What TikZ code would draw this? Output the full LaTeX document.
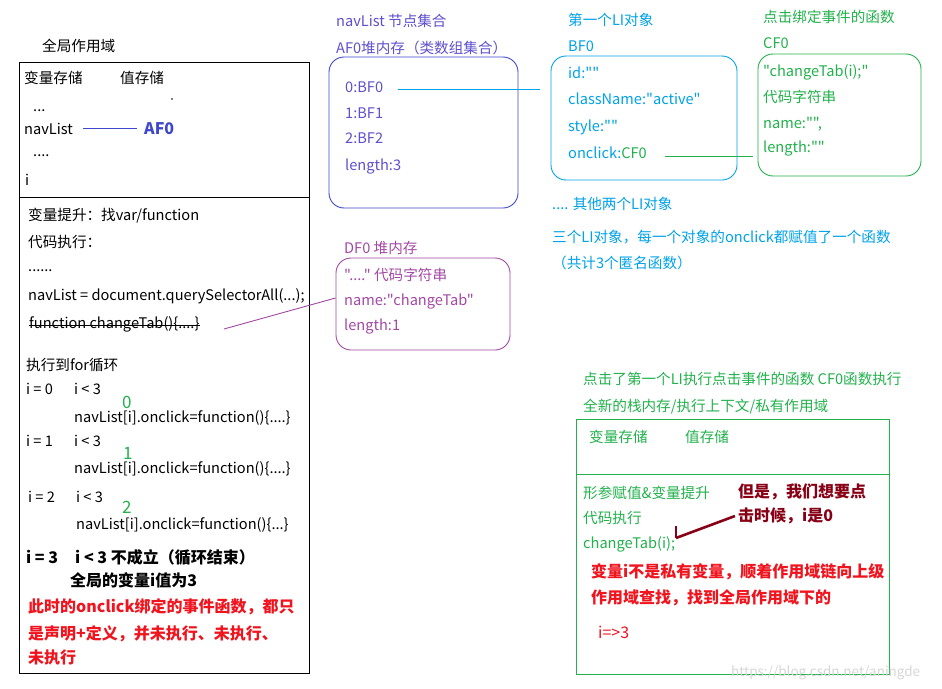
\documentclass[tikz,border=0pt]{standalone}
\usepackage{fontspec}
\setmainfont{Noto Sans CJK SC}[Ligatures=TeXOff]
\usetikzlibrary{calc}
\definecolor{afblue}{RGB}{63,72,204}
\definecolor{aftext}{RGB}{95,80,205}
\definecolor{licyan}{RGB}{0,162,232}
\definecolor{fgreen}{RGB}{34,177,76}
\definecolor{dpurple}{RGB}{163,73,164}
\definecolor{darkred}{RGB}{136,0,21}
\definecolor{bred}{RGB}{240,20,30}
\definecolor{wmgray}{RGB}{215,215,215}
\begin{document}
\begin{tikzpicture}[x=1pt,y=-1pt,
  txt/.style={inner sep=0pt, anchor=base west, font=\fontsize{14.6pt}{18pt}\selectfont},
  btxt/.style={txt, font=\fontsize{16pt}{19pt}\selectfont\bfseries},
  digit/.style={txt, text=fgreen, font=\fontsize{17pt}{19pt}\selectfont},
  rbox/.style={draw, rounded corners=15pt, inner sep=0pt, line width=0.9pt},
  sbox/.style={draw, inner sep=0pt, line width=1pt}]
\useasboundingbox (0,0) rectangle (942,688);
\fill[white] (0,0) rectangle (942,688);

% ---------- left: global scope ----------
\node[txt] (gtitle) at (42,51) {全局作用域};
\node[sbox, minimum width=290pt, minimum height=135pt] (gup) at (164,129.5) {};
\node[sbox, minimum width=290pt, minimum height=476pt] (gdown) at (164,435) {};
\node[txt] (gvar) at (24,83) {变量存储};
\node[txt] (gval) at (120,83) {值存储};
\fill (172,99) circle (0.8);
\node[txt] (gd1) at (33,111) {...};
\node[txt] (gnav) at (24,134) {navList};
\node[btxt, text=afblue] (af0) at (144,134) {AF0};
\draw[afblue, line width=1pt, shorten <=10pt, shorten >=7pt] ([yshift=6pt]gnav.base east) -- ([yshift=6pt]af0.base west);
\node[txt] (gd2) at (33,156) {....};
\node[txt] (gi) at (25,185) {i};

\node[txt] (l1) at (28,220) {变量提升：找var/function};
\node[txt] (l2) at (28,247) {代码执行：};
\node[txt] (l3) at (28,271) {......};
\node[txt] (l4) at (28,300) {navList = document.querySelectorAll(...);};
\node[txt] (strike) at (29,328) {function changeTab()\{....\}};
\draw[line width=1pt] ([yshift=3pt]strike.base west) -- ([yshift=3pt]strike.base east);
\coordinate (pstart) at (224,329);

\node[txt] (f0) at (26,370) {执行到for循环};
\node[txt] (a0) at (26,394) {i = 0};
\node[txt] (b0) at (74,394) {i < 3};
\node[digit] (g0) at (122,408) {0};
\node[txt] (c0) at (74,422) {navList[i].onclick=function()\{....\}};
\node[txt] (a1) at (26,446) {i = 1};
\node[txt] (b1) at (74,446) {i < 3};
\node[digit] (g1) at (123,459) {1};
\node[txt] (c1) at (74,473) {navList[i].onclick=function()\{....\}};
\node[txt] (a2) at (28,502) {i = 2};
\node[txt] (b2) at (76,502) {i < 3};
\node[digit] (g2) at (122,513) {2};
\node[txt] (c2) at (76,529) {navList[i].onclick=function()\{...\}};
\node[btxt] (a3) at (26,563) {i = 3};
\node[btxt] (b3) at (75,563) {i < 3 不成立（循环结束）};
\node[btxt] (gl) at (70,586) {全局的变量i值为3};
\node[btxt, text=bred] (r1) at (28,612) {此时的onclick绑定的事件函数，都只};
\node[btxt, text=bred] (r2) at (28,639) {是声明+定义，并未执行、未执行、};
\node[btxt, text=bred] (r3) at (28,663) {未执行};

% ---------- AF0 ----------
\node[txt, text=aftext] (aft1) at (336,27) {navList 节点集合};
\node[txt, text=aftext] (aft2) at (336,53) {AF0堆内存（类数组集合）};
\node[rbox, draw=afblue, minimum width=189pt, minimum height=151pt] (afbox) at (423.5,132.5) {};
\node[txt, text=aftext] (n0) at (345,92) {0:BF0};
\node[txt, text=aftext] (n1) at (345,118) {1:BF1};
\node[txt, text=aftext] (n2) at (345,143) {2:BF2};
\node[txt, text=aftext] (n3) at (345,170) {length:3};

% ---------- DF0 ----------
\node[txt, text=dpurple] (dft) at (344,253) {DF0 堆内存};
\node[rbox, draw=dpurple, minimum width=174pt, minimum height=92pt] (dfbox) at (423,304) {};
\node[txt, text=dpurple] (d1) at (344,280) {"...." 代码字符串};
\node[txt, text=dpurple] (d2) at (344,305) {name:"changeTab"};
\node[txt, text=dpurple] (d3) at (344,330) {length:1};
\draw[dpurple, line width=0.9pt] (pstart) -- (dfbox.west |- 0,298);

% ---------- BF0 ----------
\node[txt, text=licyan] (bft1) at (568,25) {第一个LI对象};
\node[txt, text=licyan] (bft2) at (568,51) {BF0};
\node[rbox, draw=licyan, minimum width=186pt, minimum height=124pt] (bfbox) at (644,118) {};
\node[txt, text=licyan] (p1) at (568,78) {id:""};
\node[txt, text=licyan] (p2) at (568,104) {className:"active"};
\node[txt, text=licyan] (p3) at (568,131) {style:""};
\node[txt, text=licyan] (p4) at (568,158) {onclick:\textcolor{fgreen}{CF0}};
\draw[licyan, line width=1.2pt, shorten <=15pt, shorten >=11pt] ([yshift=-3pt]n0.east) -- ([yshift=-3pt]n0.east -| bfbox.west);

% ---------- CF0 ----------
\node[txt, text=fgreen] (cft1) at (763,23) {点击绑定事件的函数};
\node[txt, text=fgreen] (cft2) at (763,48) {CF0};
\node[rbox, draw=fgreen, minimum width=163pt, minimum height=122pt] (cfbox) at (839.5,115) {};
\node[txt, text=fgreen] (q1) at (763,76) {"changeTab(i);"};
\node[txt, text=fgreen] (q2) at (763,102) {代码字符串};
\node[txt, text=fgreen] (q3) at (763,128) {name:"",};
\node[txt, text=fgreen] (q4) at (763,152) {length:""};
\draw[fgreen, line width=1pt, shorten <=18pt, shorten >=5pt] ([yshift=-4pt]p4.east) -- ([yshift=-4pt]p4.east -| cfbox.west);

\node[txt, text=licyan] (o1) at (552,209) {.... 其他两个LI对象};
\node[txt, text=licyan] (o2) at (552,242) {三个LI对象，每一个对象的onclick都赋值了一个函数};
\node[txt, text=licyan] (o3) at (552,268) {（共计3个匿名函数）};

% ---------- private scope ----------
\node[txt, text=fgreen] (e1) at (583,384) {点击了第一个LI执行点击事件的函数 CF0函数执行};
\node[txt, text=fgreen] (e2) at (583,411) {全新的栈内存/执行上下文/私有作用域};
\node[sbox, draw=fgreen, minimum width=313pt, minimum height=55pt] (pup) at (732.5,446.5) {};
\node[sbox, draw=fgreen, minimum width=313pt, minimum height=200pt] (pdown) at (732.5,574) {};
\node[txt, text=fgreen] (pvar) at (589,442) {变量存储};
\node[txt, text=fgreen] (pval) at (685,442) {值存储};
\node[txt, text=fgreen] (s1) at (583,498) {形参赋值\&变量提升};
\node[txt, text=fgreen] (s2) at (583,523) {代码执行};
\node[txt, text=fgreen] (ct) at (583,548) {changeTab(i);};
\node[btxt, text=darkred] (but1) at (738,497) {但是，我们想要点};
\node[btxt, text=darkred] (but2) at (738,521) {击时候，i是0};
\coordinate (arrs) at (735,516);
\coordinate (arre) at (676,538);
\coordinate (arrt) at (676,526);
\draw[darkred, line width=2.6pt] (arrs) -- (arre);
\draw[darkred, line width=2pt] (arre) -- (arrt);
\node[btxt, text=bred] (w1) at (591,577) {变量i不是私有变量，顺着作用域链向上级};
\node[btxt, text=bred] (w2) at (591,603) {作用域查找，找到全局作用域下的};
\node[txt, text=bred, font=\fontsize{16pt}{19pt}\selectfont] (w3) at (598,638) {i=>3};
\node[txt, text=wmgray, font=\fontsize{13.5pt}{16pt}\selectfont] (wm) at (731,676) {https://blog.csdn.net/aningde};
\end{tikzpicture}
\end{document}
